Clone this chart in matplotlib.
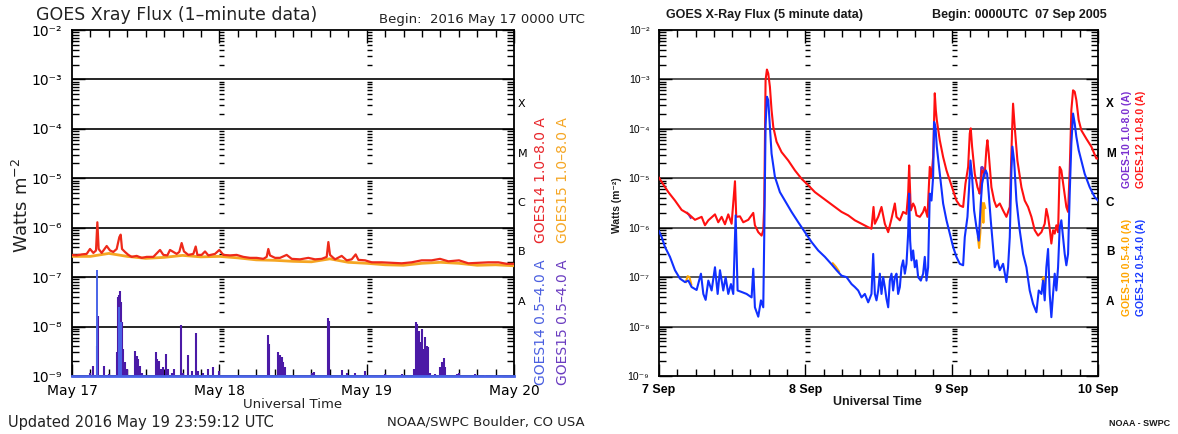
import numpy as np
import matplotlib.pyplot as plt
from matplotlib.ticker import FixedLocator, MultipleLocator, NullFormatter
from matplotlib.transforms import blended_transform_factory

W, H = 1178, 434

# shared axis text
decade_labels = ['10⁻⁹', '10⁻⁸', '10⁻⁷', '10⁻⁶', '10⁻⁵', '10⁻⁴', '10⁻³', '10⁻²']
flare_classes = ['A', 'B', 'C', 'M', 'X']

# ---- left panel: GOES 14/15, 1-minute data, hours after 2016 May 17 00 UTC
may_labels = ['May 17', 'May 18', 'May 19', 'May 20']

g14_long_t = [0, 0.76, 1.57, 2.39, 2.93, 3.48, 3.91, 4.13, 4.34, 4.83, 5.65, 6.19, 6.73,
              7.28, 7.71, 7.93, 8.15, 8.63, 9.18, 9.72, 10.53, 11.35, 12.16, 13.25, 14.34,
              14.88, 15.53, 15.96, 16.51, 17.05, 17.48, 17.86, 18.24, 18.95, 19.77, 20.15,
              20.42, 21.12, 21.67, 22.21, 23.29, 24.00, 24.65, 25.74, 26.82, 27.91, 29.00,
              30.08, 31.17, 31.71, 31.98, 32.25, 33.07, 33.88, 34.97, 35.79, 37.14, 38.50,
              39.59, 40.67, 41.49, 41.76, 42.03, 42.85, 43.93, 44.75, 45.56, 46.21, 46.65,
              47.73, 48.82, 50.45, 52.08, 53.71, 55.33, 56.96, 58.59, 59.95, 61.31, 63.04,
              64.57, 66.19, 67.82, 69.45, 70.81, 72.0]
g14_long_log = [-6.55, -6.56, -6.54, -6.53, -6.43, -6.51, -6.46, -5.89, -6.43, -6.51, -6.37,
                -6.46, -6.49, -6.43, -6.19, -6.14, -6.43, -6.49, -6.55, -6.59, -6.57, -6.61,
                -6.59, -6.59, -6.45, -6.55, -6.56, -6.45, -6.49, -6.53, -6.49, -6.31, -6.48,
                -6.55, -6.53, -6.38, -6.55, -6.55, -6.48, -6.56, -6.53, -6.45, -6.55, -6.56,
                -6.55, -6.59, -6.61, -6.61, -6.63, -6.59, -6.43, -6.56, -6.61, -6.61, -6.55,
                -6.63, -6.64, -6.61, -6.64, -6.63, -6.59, -6.29, -6.55, -6.64, -6.57, -6.66,
                -6.64, -6.54, -6.65, -6.66, -6.70, -6.70, -6.71, -6.72, -6.70, -6.66, -6.66,
                -6.63, -6.68, -6.66, -6.72, -6.71, -6.70, -6.70, -6.73, -6.73]

g15_long_t = [0, 3, 6, 9, 12, 15, 18, 21, 24, 27, 30, 33, 36, 39, 42, 45, 48, 51, 54, 57,
              60, 63, 66, 69, 72]
g15_long_log = [-6.58, -6.58, -6.52, -6.58, -6.62, -6.60, -6.56, -6.59, -6.58, -6.61, -6.65,
                -6.66, -6.68, -6.69, -6.63, -6.70, -6.72, -6.75, -6.76, -6.72, -6.70, -6.72,
                -6.76, -6.75, -6.77]

# 0.5-4 A channel sits on the 1e-9 floor apart from these spikes
short_floor = 1e-9
g14_spike_t = [4.13, 7.71, 7.87, 8.04]
g14_spike_log = [-6.85, -7.60, -8.00, -7.90]
g15_spike_t = [2.93, 3.48, 4.02, 4.18, 5.27, 6.08, 7.28, 7.55, 7.71, 7.87, 8.04, 8.20, 8.36,
               8.63, 8.91, 10.26, 10.53, 10.81, 11.08, 11.35, 13.68, 13.90, 14.23, 14.50,
               14.88, 15.31, 15.69, 16.24, 16.67, 17.76, 18.14, 18.95, 19.49, 20.15, 20.58,
               21.39, 22.21, 23.02, 24.00, 31.98, 32.09, 33.61, 33.88, 34.15, 34.43, 34.70,
               39.04, 39.48, 41.76, 41.87, 43.93, 44.75, 46.10, 47.73, 50.99, 53.71, 55.77,
               56.04, 56.26, 56.53, 56.85, 57.07, 57.29, 57.51, 57.78, 58.05, 58.32, 59.14,
               59.95, 60.33, 60.55, 60.76, 62.66, 63.04, 65.65, 67.28, 68.80]
g15_spike_log = [-8.93, -8.79, -8.39, -7.78, -8.79, -8.96, -8.52, -7.41, -7.37, -7.28, -7.51,
                 -7.91, -8.45, -8.72, -8.86, -8.49, -8.59, -8.66, -8.79, -8.93, -8.51, -8.66,
                 -8.69, -8.86, -8.82, -8.55, -8.86, -8.93, -8.86, -7.97, -8.93, -8.57, -8.89,
                 -8.13, -8.89, -8.93, -8.86, -8.82, -8.89, -8.18, -8.35, -8.52, -8.57, -8.62,
                 -8.72, -8.82, -8.93, -8.91, -7.83, -7.88, -8.87, -8.94, -8.93, -8.89, -8.96,
                 -8.96, -8.86, -7.90, -7.95, -8.08, -8.32, -8.05, -8.45, -8.22, -8.39, -8.42,
                 -8.93, -8.96, -8.82, -8.72, -8.64, -8.82, -8.96, -8.93, -8.96, -8.97, -8.97]

# ---- right panel: GOES 10/12, 5-minute data, hours after 2005 Sep 07 00 UTC
sep_labels = ['7 Sep', '8 Sep', '9 Sep', '10 Sep']

g12_long_t = [0, 1.53, 2.62, 3.71, 4.81, 5.90, 6.99, 7.54, 8.09, 9.18, 9.72, 10.27, 10.82,
              11.36, 11.91, 12.46, 12.67, 13.28, 13.82, 14.64, 15.46, 15.73, 16.28, 16.83,
              17.10, 17.26, 17.48, 17.70, 17.92, 18.19, 18.46, 18.74, 19.28, 20.10, 21.20,
              22.29, 23.38, 24.47, 25.57, 26.66, 27.75, 28.84, 29.94, 31.03, 32.12, 33.22,
              34.31, 34.85, 35.18, 35.40, 35.95, 36.49, 37.04, 37.59, 38.13, 38.68, 38.95,
              39.50, 40.04, 40.59, 40.86, 41.03, 41.30, 41.68, 41.96, 42.23, 42.78, 43.32,
              43.59, 44.03, 44.41, 44.69, 44.96, 45.23, 45.40, 45.56, 46.05, 46.60, 47.15,
              47.69, 48.24, 48.78, 49.33, 49.88, 50.26, 50.70, 50.97, 51.13, 51.35, 51.79,
              52.23, 52.61, 52.99, 53.43, 53.70, 53.86, 54.08, 54.52, 54.96, 55.34, 55.89,
              56.43, 56.98, 57.53, 57.91, 58.07, 58.34, 58.78, 59.44, 59.98, 60.53, 61.08,
              61.62, 62.17, 62.72, 63.26, 63.53, 63.81, 64.08, 64.35, 64.63, 64.90, 65.17,
              65.45, 65.72, 65.99, 66.43, 66.81, 67.09, 67.36, 67.63, 67.91, 68.18, 68.45,
              68.83, 69.27, 70.09, 70.91, 71.73, 72.0]
g12_long_log = [-4.99, -5.28, -5.45, -5.64, -5.72, -5.84, -5.78, -5.95, -5.85, -5.73, -5.89,
                -5.78, -5.93, -5.73, -5.92, -5.06, -5.78, -5.77, -5.89, -5.84, -5.70, -5.95,
                -6.09, -6.16, -6.05, -5.55, -3.01, -2.80, -2.88, -3.15, -3.62, -3.96, -4.26,
                -4.47, -4.64, -4.84, -5.01, -5.14, -5.28, -5.38, -5.48, -5.58, -5.68, -5.75,
                -5.85, -5.92, -5.99, -6.02, -5.58, -5.92, -5.78, -5.58, -5.92, -6.09, -5.82,
                -5.51, -5.78, -5.85, -5.68, -5.72, -5.31, -4.74, -5.65, -5.51, -5.58, -5.75,
                -5.78, -5.68, -5.58, -5.78, -4.77, -4.97, -4.57, -3.28, -3.62, -3.82, -4.23,
                -4.57, -4.84, -5.04, -5.24, -5.45, -5.55, -5.58, -5.11, -4.77, -4.09, -3.99,
                -4.36, -4.91, -5.18, -5.31, -4.84, -4.91, -4.40, -4.23, -4.50, -5.18, -5.45,
                -5.58, -5.51, -5.65, -5.78, -5.58, -4.03, -3.49, -3.96, -4.64, -5.18, -5.45,
                -5.58, -5.78, -6.05, -6.16, -6.09, -5.92, -5.62, -5.78, -6.02, -6.32, -6.05,
                -6.12, -5.95, -6.09, -4.77, -4.84, -5.24, -5.58, -5.68, -4.84, -3.62, -3.22,
                -3.25, -3.42, -3.82, -4.03, -4.20, -4.36, -4.60, -4.60]

g12_short_t = [0, 0.44, 0.98, 1.80, 2.62, 3.44, 4.26, 4.81, 5.35, 6.17, 6.88, 7.27, 7.65,
               8.09, 8.63, 9.18, 9.62, 10.00, 10.54, 10.93, 11.36, 11.80, 12.18, 12.57, 12.89,
               13.55, 14.37, 15.19, 15.46, 15.73, 16.28, 16.72, 17.10, 17.26, 17.48, 17.70,
               17.92, 18.19, 18.46, 19.01, 19.83, 20.65, 21.74, 22.84, 23.93, 25.02, 26.11,
               27.21, 28.30, 29.12, 29.94, 30.76, 31.58, 32.12, 32.67, 33.22, 33.76, 34.31,
               34.85, 35.13, 35.40, 35.67, 35.95, 36.22, 36.49, 36.77, 37.04, 37.31, 37.59,
               37.86, 38.13, 38.40, 38.68, 38.95, 39.22, 39.50, 39.77, 40.04, 40.32, 40.59,
               40.86, 41.03, 41.19, 41.41, 41.68, 41.96, 42.23, 42.50, 42.94, 43.32, 43.59,
               43.87, 44.14, 44.41, 44.69, 44.96, 45.12, 45.34, 45.56, 46.05, 46.60, 47.15,
               47.69, 48.24, 48.78, 49.33, 49.88, 50.15, 50.59, 50.86, 51.08, 51.35, 51.68,
               52.06, 52.44, 52.77, 52.99, 53.26, 53.59, 53.81, 54.08, 54.41, 54.79, 55.07,
               55.50, 55.89, 56.43, 56.98, 57.25, 57.53, 57.80, 57.96, 58.24, 58.62, 59.16,
               59.71, 60.26, 60.80, 61.35, 61.90, 62.28, 62.72, 62.99, 63.26, 63.53, 63.81,
               64.08, 64.35, 64.63, 64.90, 65.17, 65.45, 65.72, 65.99, 66.27, 66.54, 66.81,
               67.09, 67.36, 67.63, 67.91, 68.18, 68.45, 68.83, 69.27, 69.82, 70.64, 71.46,
               72.0]
g12_short_log = [-6.07, -6.19, -6.39, -6.59, -6.86, -7.03, -7.10, -7.07, -7.20, -7.26, -6.93,
                 -7.34, -7.46, -7.07, -7.27, -6.80, -7.34, -6.86, -7.27, -7.00, -7.34, -7.14,
                 -7.34, -5.75, -7.27, -7.30, -7.34, -7.41, -6.83, -7.61, -7.80, -7.47, -7.61,
                 -6.19, -3.93, -3.35, -3.42, -3.96, -4.50, -4.97, -5.28, -5.45, -5.68, -5.89,
                 -6.09, -6.29, -6.46, -6.59, -6.74, -6.86, -6.97, -7.00, -7.14, -7.20, -7.27,
                 -7.41, -7.34, -7.51, -7.34, -6.53, -7.34, -7.47, -7.27, -6.93, -7.34, -7.00,
                 -7.20, -7.44, -7.61, -7.07, -6.93, -7.27, -7.00, -6.93, -7.34, -7.20, -6.80,
                 -6.66, -6.93, -6.73, -6.12, -5.31, -6.26, -6.66, -6.46, -6.80, -6.66, -7.00,
                 -7.07, -6.93, -6.59, -7.07, -6.80, -5.31, -5.45, -4.97, -3.86, -3.96, -4.36,
                 -4.91, -5.51, -5.85, -6.12, -6.39, -6.59, -6.73, -6.76, -6.19, -5.78, -5.18,
                 -4.64, -4.97, -5.65, -5.99, -6.26, -5.51, -5.11, -4.94, -4.84, -4.91, -5.31,
                 -5.85, -6.39, -6.80, -6.66, -6.86, -6.73, -7.10, -6.80, -6.19, -4.84, -4.36,
                 -4.64, -5.45, -6.05, -6.53, -6.80, -7.27, -7.54, -7.71, -7.27, -7.34, -7.07,
                 -7.47, -6.80, -6.43, -7.34, -7.81, -7.34, -6.93, -7.27, -6.80, -5.99, -5.85,
                 -6.19, -6.53, -6.76, -6.53, -5.31, -4.30, -3.69, -3.89, -4.16, -4.43, -4.64,
                 -4.91, -5.18, -5.38, -5.45]

# GOES-10 mostly hides under GOES-12; only the stretches where it shows are kept
g10_long_t = [52.55, 52.70, 52.85, 53.00, 53.20, 53.40, np.nan, 4.60, 4.90, 5.20]
g10_long_log = [-5.30, -5.20, -4.78, -4.77, -4.80, -4.95, np.nan, -5.70, -5.74, -5.80]
g10_short_t = [4.40, 4.70, 5.00, 5.30, np.nan, 28.50, 29.00, 29.50, np.nan,
               52.30, 52.50, 52.70, 52.85, 53.10, 53.20, 53.30, 53.50, np.nan,
               62.90, 63.10, 63.30]
g10_short_log = [-7.10, -6.98, -7.00, -7.15, np.nan, -6.72, -6.79, -6.88, np.nan,
                 -6.20, -6.41, -6.10, -5.48, -5.55, -5.90, -5.50, -5.60, np.nan,
                 -7.05, -7.00, -7.12]


def fx(px):
    return px / W


def fy(py):
    return 1 - py / H


def setup_axes(ax, day_labels, grid_color, tick_family, tick_size, tick_weight, x_size):
    """
    Log flux axes with IDL-like inward ticks and tick columns at day boundaries
    """
    ax.set_yscale('log')
    ax.set_xlim(0, 72)
    ax.set_ylim(1e-9, 1e-2)
    decades = [10.0 ** d for d in range(-9, -1)]
    ax.yaxis.set_major_locator(FixedLocator(decades))
    ax.set_yticklabels(decade_labels)
    minors = [m * 10.0 ** d for d in range(-9, -2) for m in range(2, 10)]
    ax.yaxis.set_minor_locator(FixedLocator(minors))
    ax.yaxis.set_minor_formatter(NullFormatter())
    ax.xaxis.set_major_locator(FixedLocator([0, 24, 48, 72]))
    ax.set_xticklabels(day_labels)
    ax.xaxis.set_minor_locator(MultipleLocator(3))
    ax.tick_params(which='both', direction='in', top=True, right=True, width=1)
    ax.tick_params(which='major', length=9)
    ax.tick_params(which='minor', length=5)
    ax.tick_params(axis='y', which='major', pad=7, labelsize=tick_size)
    ax.tick_params(axis='x', which='major', pad=6, labelsize=x_size)
    for lbl in ax.get_yticklabels():
        lbl.set_fontfamily(tick_family)
        lbl.set_fontweight(tick_weight)
    for lbl in ax.get_xticklabels():
        lbl.set_fontfamily(tick_family)
        lbl.set_fontweight(tick_weight)
    for d in decades[1:-1]:
        ax.axhline(d, color=grid_color, lw=1.2, zorder=1)
    for day in (24, 48):
        ax.hlines(minors, day, day + 0.8, color='k', lw=1, zorder=1)
    for sp in ax.spines.values():
        sp.set_linewidth(1.3)


fig = plt.figure(figsize=(W / 100, H / 100), dpi=100)

# ---------------- left panel
axl = fig.add_axes([fx(72), fy(376), fx(514) - fx(72), fy(30) - fy(376)])
setup_axes(axl, may_labels, 'black', ['DejaVu Sans'], 10, 'normal', 10)
axl.plot(g15_long_t, 10.0 ** np.array(g15_long_log), color='#f5a623', lw=2.0, zorder=3)
axl.plot(g14_long_t, 10.0 ** np.array(g14_long_log), color='#ee2a1a', lw=1.6, zorder=4)
axl.vlines(g15_spike_t, short_floor, 10.0 ** np.array(g15_spike_log), color='#4b1aa6', lw=1.5,
           zorder=3)
axl.vlines(g14_spike_t, short_floor, 10.0 ** np.array(g14_spike_log), color='#4a64e8', lw=1.4,
           zorder=4)
axl.axhline(short_floor, color='#4a64e8', lw=2.0, zorder=5, clip_on=False)

trl = blended_transform_factory(axl.transAxes, axl.transData)
for i, c in enumerate(flare_classes):
    axl.text(1.008, 10.0 ** (-7.5 + i), c, transform=trl, fontsize=8, va='center',
             ha='left', family='DejaVu Sans')

fig.text(fx(36), fy(15), 'GOES Xray Flux (1–minute data)', fontsize=12.5, va='center',
         ha='left', color='#222222')
fig.text(fx(585), fy(19), 'Begin:  2016 May 17 0000 UTC', fontsize=9.5, va='center',
         ha='right', color='#222222')
fig.text(fx(22), fy(205), 'Watts m$^{-2}$', rotation=90, fontsize=13, va='center',
         ha='center', color='#222222')
fig.text(fx(293), fy(404), 'Universal Time', fontsize=9.5, va='center', ha='center',
         color='#222222')
fig.text(fx(8), fy(422), 'Updated 2016 May 19 23:59:12 UTC', fontsize=10.5, va='center',
         ha='left', color='#222222')
fig.text(fx(585), fy(422), 'NOAA/SWPC Boulder, CO USA', fontsize=9.5, va='center',
         ha='right', color='#222222')
fig.text(fx(541), fy(180), 'GOES14 1.0–8.0 A', rotation=90, fontsize=10, va='center',
         ha='center', color='#e8252a')
fig.text(fx(563), fy(180), 'GOES15 1.0–8.0 A', rotation=90, fontsize=10, va='center',
         ha='center', color='#f5a623')
fig.text(fx(541), fy(322), 'GOES14 0.5–4.0 A', rotation=90, fontsize=10, va='center',
         ha='center', color='#4a5fe0')
fig.text(fx(563), fy(322), 'GOES15 0.5–4.0 A', rotation=90, fontsize=10, va='center',
         ha='center', color='#6a3cc0')

# ---------------- right panel
axr = fig.add_axes([fx(659), fy(376), fx(1098) - fx(659), fy(30) - fy(376)])
setup_axes(axr, sep_labels, '#3a3a3a', ['Liberation Sans', 'DejaVu Sans'], 7.5, 'normal', 9)
for lbl in axr.get_xticklabels():
    lbl.set_fontweight('bold')
axr.plot(g10_long_t, 10.0 ** np.array(g10_long_log), color='#7030c0', lw=1.5, zorder=3)
axr.plot(g12_long_t, 10.0 ** np.array(g12_long_log), color='#ff1010', lw=1.5, zorder=4)
axr.plot(g10_short_t, 10.0 ** np.array(g10_short_log), color='#ffa500', lw=1.5, zorder=3)
axr.plot(g12_short_t, 10.0 ** np.array(g12_short_log), color='#1030ff', lw=1.5, zorder=4)

trr = blended_transform_factory(axr.transAxes, axr.transData)
for i, c in enumerate(flare_classes):
    axr.text(1.018, 10.0 ** (-7.5 + i), c, transform=trr, fontsize=8.5, va='center',
             ha='left', family='Liberation Sans', weight='bold')

bold = dict(family=['Liberation Sans', 'DejaVu Sans'], weight='bold', color='#1a1a1a')
fig.text(fx(666), fy(15), 'GOES X-Ray Flux (5 minute data)', fontsize=9, va='center',
         ha='left', **bold)
fig.text(fx(1107), fy(15), 'Begin: 0000UTC  07 Sep 2005', fontsize=9, va='center',
         ha='right', **bold)
fig.text(fx(617), fy(205), 'Watts (m⁻²)', rotation=90, fontsize=7.5, va='center',
         ha='center', **bold)
fig.text(fx(877), fy(402), 'Universal Time', fontsize=9, va='center', ha='center', **bold)
fig.text(fx(1170), fy(424), 'NOAA - SWPC', fontsize=6.5, va='center', ha='right', **bold)
fig.text(fx(1127), fy(139), 'GOES-10 1.0-8.0 (A)', rotation=90, fontsize=7.5, va='center',
         ha='center', family=['Liberation Sans'], weight='bold', color='#7a2fd0')
fig.text(fx(1141), fy(139), 'GOES-12 1.0-8.0 (A)', rotation=90, fontsize=7.5, va='center',
         ha='center', family=['Liberation Sans'], weight='bold', color='#ff1a1a')
fig.text(fx(1127), fy(267), 'GOES-10 0.5-4.0 (A)', rotation=90, fontsize=7.5, va='center',
         ha='center', family=['Liberation Sans'], weight='bold', color='#ffa500')
fig.text(fx(1141), fy(267), 'GOES-12 0.5-4.0 (A)', rotation=90, fontsize=7.5, va='center',
         ha='center', family=['Liberation Sans'], weight='bold', color='#1a3cff')

fig.savefig('out.png', dpi=100)
